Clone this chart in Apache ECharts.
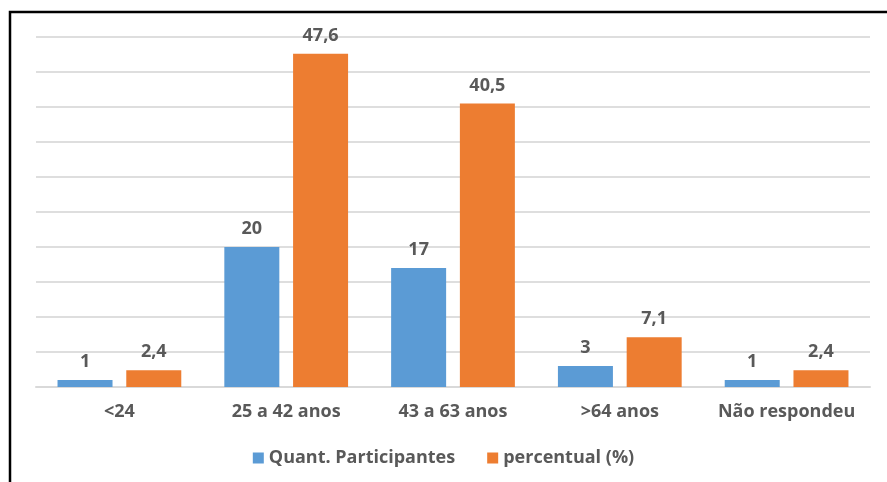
<!DOCTYPE html>
<html>
<head>
<meta charset="utf-8">
<script src="https://cdn.jsdelivr.net/npm/echarts@6/dist/echarts.min.js"></script>
<style>
  html, body { margin: 0; padding: 0; background: #ffffff; }
  #chart { width: 887px; height: 482px; }
</style>
</head>
<body>
<div id="chart"></div>
<script>
// Age bands of the participants
const categories = ['<24', '25 a 42 anos', '43 a 63 anos', '>64 anos', 'Não respondeu'];
// Number of participants in each band
const quantParticipantes = [1, 20, 17, 3, 1];
// Share of the total, in percent
const percentual = [2.4, 47.6, 40.5, 7.1, 2.4];

const seriesNames = ['Quant. Participantes', 'percentual (%)'];
const textColor = '#595959';
const fontFamily = '"Open Sans", sans-serif';

const fmt = v => String(v).replace('.', ',');

const chart = echarts.init(document.getElementById('chart'), null, { renderer: 'canvas' });

const labelStyle = {
  show: true,
  position: 'top',
  distance: 9,
  color: textColor,
  fontFamily: fontFamily,
  fontWeight: 'bold',
  fontSize: 18,
  formatter: p => fmt(p.value)
};

chart.setOption({
  animation: false,
  backgroundColor: '#ffffff',
  graphic: [
    {
      type: 'polyline',
      shape: { points: [[10, 482], [10, 12], [887, 12]] },
      style: { stroke: '#000000', lineWidth: 2.5, fill: null }
    }
  ],
  legend: {
    data: seriesNames,
    bottom: 10,
    left: 'center',
    itemWidth: 11,
    itemHeight: 11,
    itemGap: 32,
    icon: 'rect',
    textStyle: {
      color: textColor,
      fontFamily: fontFamily,
      fontWeight: 'bold',
      fontSize: 18
    }
  },
  grid: {
    left: 36,
    right: 17,
    top: 37,
    bottom: 95,
    containLabel: false
  },
  xAxis: {
    type: 'category',
    data: categories,
    axisTick: { show: false },
    axisLine: { lineStyle: { color: '#D9D9D9', width: 2 } },
    axisLabel: {
      interval: 0,
      hideOverlap: false,
      color: textColor,
      fontFamily: fontFamily,
      fontWeight: 'bold',
      fontSize: 18,
      margin: 16
    }
  },
  yAxis: {
    type: 'value',
    min: 0,
    max: 50,
    interval: 5,
    axisLabel: { show: false },
    axisLine: { show: false },
    axisTick: { show: false },
    splitLine: { lineStyle: { color: '#DEDEDE', width: 2 } }
  },
  series: [
    {
      name: seriesNames[0],
      type: 'bar',
      data: quantParticipantes,
      barWidth: 55,
      barGap: '25%',
      itemStyle: { color: '#5B9BD5' },
      label: labelStyle
    },
    {
      name: seriesNames[1],
      type: 'bar',
      data: percentual,
      barWidth: 55,
      barGap: '25%',
      itemStyle: { color: '#ED7D31' },
      label: labelStyle
    }
  ]
});
</script>
</body>
</html>
